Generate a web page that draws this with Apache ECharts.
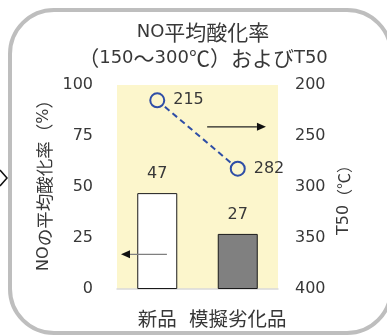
<!DOCTYPE html>
<html>
<head>
<meta charset="utf-8">
<script src="https://cdn.jsdelivr.net/npm/echarts@6/dist/echarts.min.js"></script>
<style>
  html, body { margin: 0; padding: 0; background: #ffffff; }
  #chart { width: 387px; height: 336px; }
</style>
</head>
<body>
<div id="chart"></div>
<script>
// Categories and values
const categories = ['新品', '模擬劣化品'];
const oxidationRate = [47, 27];      // NO average oxidation rate (%), left axis
const t50 = [215, 282];              // T50 (°C), right axis (inverted)
const leftTicks = [0, 25, 50, 75, 100];
const rightTicks = [200, 250, 300, 350, 400];

const TEXT = '#383838';
const FONT = '"DejaVu Sans", "Noto Sans CJK JP", sans-serif';
const CJK = '"Noto Sans CJK JP", sans-serif';
const BG = '#fcf6cc';

// Split a string into rich-text runs: latin at one size, CJK at a slightly larger one
function rich(str) {
  let out = '';
  let cur = '', curType = null;
  for (const ch of str) {
    const t = ch.charCodeAt(0) < 0x2000 ? 'a' : 'c';
    if (t !== curType && cur) { out += '{' + curType + '|' + cur + '}'; cur = ''; }
    curType = t; cur += ch;
  }
  if (cur) out += '{' + curType + '|' + cur + '}';
  return out;
}
function richStyles(latin, cjk) {
  return {
    a: { fontFamily: FONT, fontSize: latin, color: TEXT },
    c: { fontFamily: CJK, fontSize: cjk, color: TEXT }
  };
}

const chart = echarts.init(document.getElementById('chart'), null, { renderer: 'canvas' });

const option = {
  backgroundColor: '#ffffff',
  animation: false,
  title: {
    text: rich('NO平均酸化率') + '\n' + rich('（150～300℃）およびT50'),
    left: 198,
    top: 14,
    textAlign: 'center',
    textStyle: {
      fontFamily: FONT,
      fontSize: 18,
      fontWeight: 'normal',
      color: TEXT,
      lineHeight: 26,
      rich: {
        a: { fontFamily: FONT, fontSize: 18, color: TEXT, lineHeight: 26 },
        c: { fontFamily: CJK, fontSize: 21, color: TEXT, lineHeight: 26 }
      }
    }
  },
  grid: {
    left: 117, right: 109, top: 85, bottom: 47,
    show: true, backgroundColor: BG, borderWidth: 0
  },
  xAxis: {
    type: 'category',
    data: categories,
    axisLine: { lineStyle: { color: '#d9d9d9', width: 1.5 } },
    axisTick: { show: false },
    axisLabel: {
      interval: 0,
      margin: 20,
      formatter: v => rich(v),
      rich: richStyles(16, 19.5)
    }
  },
  yAxis: [
    {
      type: 'value', min: 0, max: 100, interval: 25,
      name: rich('NOの平均酸化率（%）'),
      nameLocation: 'middle', nameRotate: 90, nameGap: 64,
      nameTextStyle: { padding: [0, 0, 0, 12], rich: richStyles(16, 17.5) },
      axisLine: { show: false }, axisTick: { show: false }, splitLine: { show: false },
      axisLabel: {
        margin: 24, fontFamily: FONT, fontSize: 16, color: TEXT,
        formatter: v => leftTicks.includes(v) ? String(v) : ''
      }
    },
    {
      type: 'value', min: 200, max: 400, interval: 50, inverse: true, position: 'right',
      name: rich('T50（℃）'),
      nameLocation: 'middle', nameRotate: 90, nameGap: 58,
      nameTextStyle: { padding: [0, 18, 0, 0], rich: richStyles(16, 16) },
      axisLine: { show: false }, axisTick: { show: false }, splitLine: { show: false },
      axisLabel: {
        margin: 17, fontFamily: FONT, fontSize: 16, color: TEXT,
        formatter: v => rightTicks.includes(v) ? String(v) : ''
      }
    }
  ],
  series: [
    {
      type: 'bar',
      yAxisIndex: 0,
      barWidth: 40,
      data: oxidationRate.map((v, i) => ({
        value: v,
        itemStyle: { color: i === 0 ? '#ffffff' : '#808080' }
      })),
      itemStyle: { borderColor: '#1a1a1a', borderWidth: 1 },
      label: {
        show: true, position: 'top', distance: 11,
        fontFamily: FONT, fontSize: 16, color: TEXT
      },
      z: 2
    },
    {
      type: 'line',
      yAxisIndex: 1,
      data: t50,
      symbol: 'circle',
      symbolSize: 14,
      lineStyle: { color: '#2f4ea6', width: 2, type: [6, 4] },
      itemStyle: { color: BG, borderColor: '#2f4ea6', borderWidth: 2 },
      label: {
        show: true, position: 'right', distance: 8,
        fontFamily: FONT, fontSize: 16, color: TEXT
      },
      z: 3
    }
  ]
};

chart.setOption(option);

// Direction arrows pointing to each series' axis, placed in axis space
function arrow(x1, x2, y, lineColor) {
  const dir = x2 > x1 ? 1 : -1;
  const head = 9, half = 4;
  return [
    { type: 'line', shape: { x1: x1, y1: y, x2: x2 - dir * head, y2: y },
      style: { stroke: lineColor, lineWidth: 1.2 }, z: 10 },
    { type: 'polygon', shape: { points: [[x2, y], [x2 - dir * head, y - half], [x2 - dir * head, y + half]] },
      style: { fill: '#111111' }, z: 10 }
  ];
}
const yRight = chart.convertToPixel({ yAxisIndex: 0 }, 79.5);
const yLeft = chart.convertToPixel({ yAxisIndex: 0 }, 17);
const xCat0 = chart.convertToPixel({ xAxisIndex: 0 }, 0);
const xCat1 = chart.convertToPixel({ xAxisIndex: 0 }, 1);
const step = xCat1 - xCat0;

chart.setOption({
  graphic: [
    // rounded frame
    { type: 'rect', shape: { x: 10, y: 10, width: 381, height: 323, r: 44 },
      style: { fill: null, stroke: '#bebebe', lineWidth: 4 }, z: 20, silent: true },
    // chevron at the left edge
    { type: 'polyline', shape: { points: [[0, 170], [7, 178], [0, 186]] },
      style: { stroke: '#111111', lineWidth: 1.5, fill: '#ffffff' }, z: 21 },
    ...arrow(xCat0 + step * 0.62, xCat1 + step * 0.35, yRight, '#222222'),
    ...arrow(xCat0 + step * 0.12, xCat0 - step * 0.45, yLeft, '#7f7f7f')
  ]
});
</script>
</body>
</html>
